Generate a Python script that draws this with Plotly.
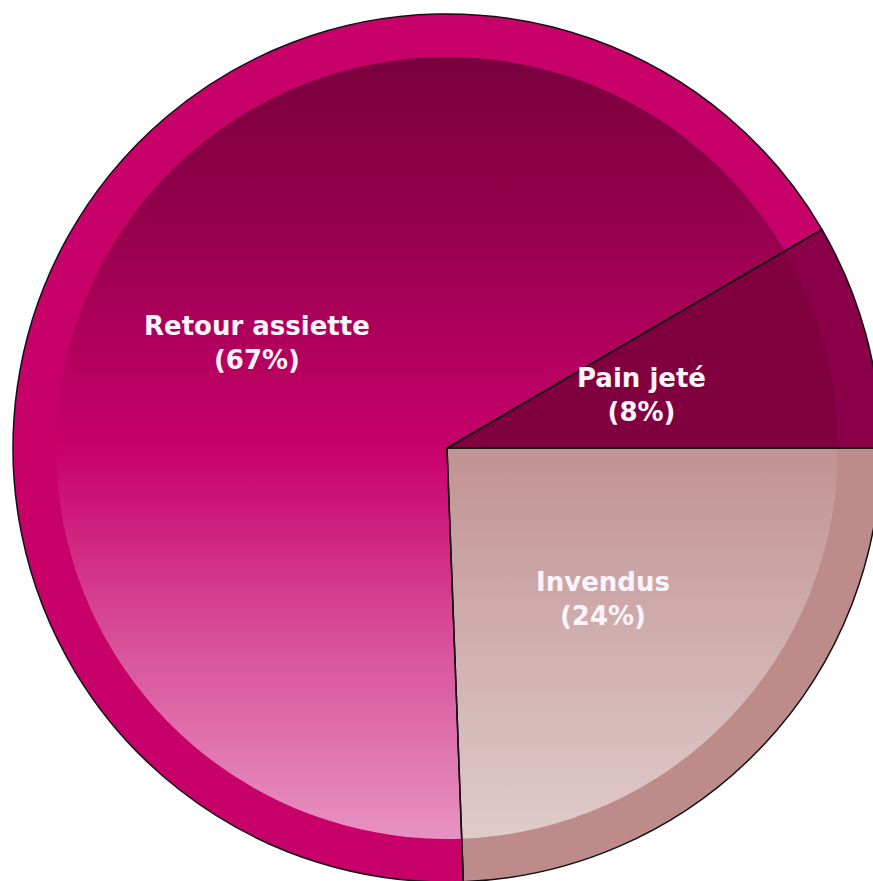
import numpy as np
import plotly.graph_objects as go

# ---- data ----
labels = ["Invendus", "Retour assiette", "Pain jeté"]
values = [24.4, 67.2, 8.4]

# ---- style ----
ring_colors = ["#BE8B8B", "#C8006A", "#8A0049"]
inner_solid = ["rgba(0,0,0,0)", "rgba(0,0,0,0)", "#80003F"]
retour_grad = [[0.0, "#7A003E"], [0.2, "#93004C"], [0.5, "#C8006A"],
               [0.75, "#D8519A"], [1.0, "#E892C2"]]
invendus_grad = [[0.0, "#C19393"], [1.0, "#E0CBCB"]]
label_r = [0.5, 0.5, 0.465]

W, H = 890, 890
cx, cy, R = 447, 448, 434
r_in = 391 / R
dom_x = [(cx - R) / W, (cx + R) / W]
dom_y = [1 - (cy + R) / H, 1 - (cy - R) / H]
START = 90.0  # first slice starts at 3 o'clock, clockwise

total = sum(values)
spans = [360.0 * v / total for v in values]
starts = [START + sum(spans[:i]) for i in range(len(values))]
mids = [s + sp / 2 for s, sp in zip(starts, spans)]

fig = go.Figure()

# gradient backdrops (under transparent slices)
t = np.radians(np.linspace(0, 360, 361))
rb = 0.95
fig.add_trace(go.Scatter(
    x=rb * np.sin(t), y=rb * np.cos(t), mode="lines", fill="toself",
    line=dict(width=0, color="rgba(0,0,0,0)"),
    fillgradient=dict(type="vertical", colorscale=retour_grad, start=r_in, stop=-r_in),
    hoverinfo="skip", showlegend=False))

a = np.radians(np.linspace(starts[0], starts[0] + spans[0], 120))
sx = np.concatenate([[0], rb * np.sin(a), [0]])
sy = np.concatenate([[0], rb * np.cos(a), [0]])
fig.add_trace(go.Scatter(
    x=sx, y=sy, mode="lines", fill="toself",
    line=dict(width=0, color="rgba(0,0,0,0)"),
    fillgradient=dict(type="vertical", colorscale=invendus_grad, start=0, stop=-r_in),
    hoverinfo="skip", showlegend=False))

common = dict(labels=labels, values=values, sort=False, direction="clockwise",
              rotation=START, textinfo="none", hoverinfo="label+percent",
              domain=dict(x=dom_x, y=dom_y), showlegend=False)

# inner solid part
fig.add_trace(go.Pie(marker=dict(colors=inner_solid, line=dict(width=0)), **common))
# outer ring
fig.add_trace(go.Pie(hole=r_in, marker=dict(colors=ring_colors, line=dict(width=0)), **common))
# outlines
fig.add_trace(go.Pie(marker=dict(colors=["rgba(0,0,0,0)"] * 3,
                                 line=dict(color="#111111", width=1.5)), **common))

annotations = []
for lab, v, m, rf in zip(labels, values, mids, label_r):
    pct = round(100 * v / total)
    th = np.radians(m)
    annotations.append(dict(
        x=rf * np.sin(th), y=rf * np.cos(th), xref="x", yref="y",
        text=f"{lab}<br>({pct}%)", showarrow=False,
        font=dict(family="DejaVu Sans", size=26, color="#FBF4FA", weight="bold")))

fig.update_layout(
    width=W, height=H, margin=dict(l=0, r=0, t=0, b=0),
    paper_bgcolor="white", plot_bgcolor="rgba(0,0,0,0)",
    xaxis=dict(domain=dom_x, range=[-1, 1], visible=False, fixedrange=True),
    yaxis=dict(domain=dom_y, range=[-1, 1], visible=False, fixedrange=True),
    annotations=annotations,
)

fig.write_html("out.html", post_script=(
    "document.body.style.margin='0';document.body.style.overflow='hidden';"
    "document.documentElement.style.overflow='hidden';"))
